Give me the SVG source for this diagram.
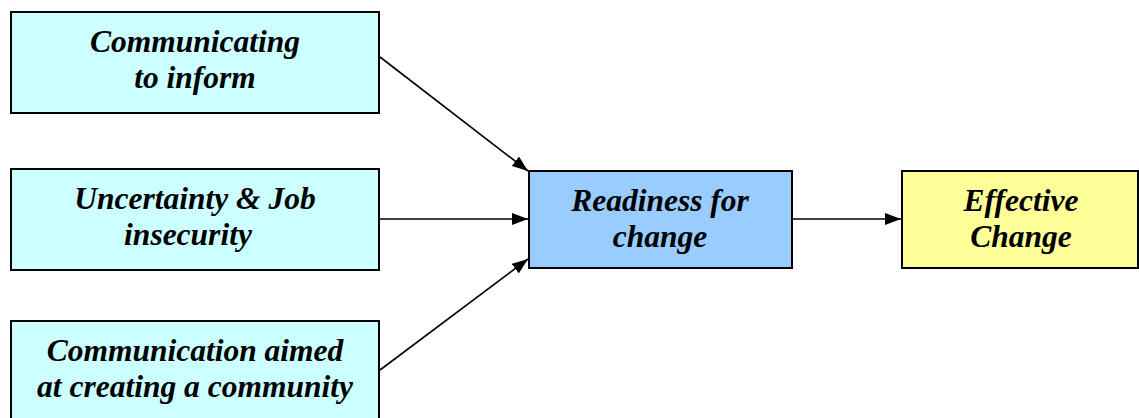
<svg xmlns="http://www.w3.org/2000/svg" width="1139" height="418" viewBox="0 0 1139 418">
  <style>
    .box { stroke: #000; stroke-width: 2; }
    .src { fill: #CCFFFF; }
    .mid { fill: #99CCFF; }
    .out { fill: #FFFF99; }
    .lbl { font-family: "Liberation Serif", "Times New Roman", serif; font-weight: bold; font-style: italic; font-size: 31.5px; text-anchor: middle; fill: #000; }
    .conn { stroke: #000; stroke-width: 1.6; fill: none; marker-end: url(#arrow); }
  </style>
  <defs>
    <marker id="arrow" viewBox="0 0 16 12" refX="16" refY="6" markerWidth="16" markerHeight="12" markerUnits="userSpaceOnUse" orient="auto">
      <path d="M0,0 L16,6 L0,12 z" fill="#000"/>
    </marker>
  </defs>
  <rect width="1139" height="418" fill="#fff"/>

  <g id="connectors">
    <line class="conn" x1="380" y1="57" x2="528" y2="171"/>
    <line class="conn" x1="380" y1="219" x2="528" y2="219"/>
    <line class="conn" x1="380" y1="370" x2="528" y2="259"/>
    <line class="conn" x1="792" y1="219" x2="901" y2="219"/>
  </g>

  <g id="inform">
    <rect class="box src" x="11" y="12" width="368" height="101"/>
    <text class="lbl" x="195" y="52">Communicating</text>
    <text class="lbl" x="195" y="88">to inform</text>
  </g>

  <g id="uncertainty">
    <rect class="box src" x="11" y="169" width="368" height="101"/>
    <text class="lbl" x="195" y="209">Uncertainty &amp; Job</text>
    <text class="lbl" x="188" y="245">insecurity</text>
  </g>

  <g id="community">
    <rect class="box src" x="11" y="321" width="368" height="101"/>
    <text class="lbl" x="195" y="361">Communication aimed</text>
    <text class="lbl" x="195" y="397">at creating a community</text>
  </g>

  <g id="readiness">
    <rect class="box mid" x="529" y="171" width="263" height="97"/>
    <text class="lbl" x="660" y="211">Readiness for</text>
    <text class="lbl" x="660" y="247">change</text>
  </g>

  <g id="effective">
    <rect class="box out" x="902" y="171" width="236" height="97"/>
    <text class="lbl" x="1021" y="211">Effective</text>
    <text class="lbl" x="1021" y="247">Change</text>
  </g>
</svg>
